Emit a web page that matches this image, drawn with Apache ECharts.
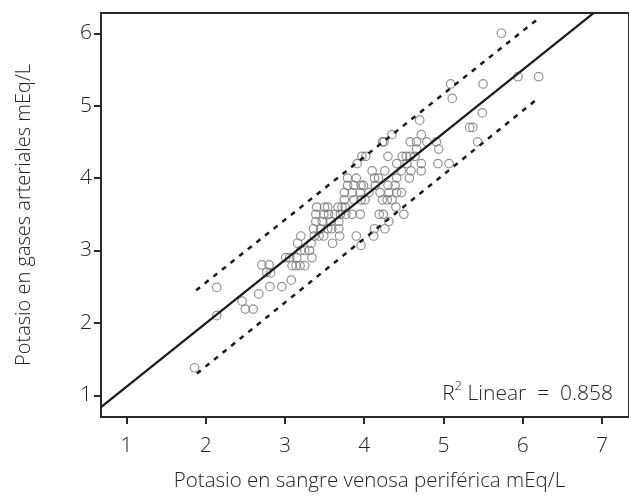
<!DOCTYPE html>
<html>
<head>
<meta charset="utf-8">
<script src="https://cdn.jsdelivr.net/npm/echarts@6/dist/echarts.min.js"></script>
<style>
  html, body { margin: 0; padding: 0; background: #fff; }
  #chart { width: 629px; height: 497px; }
</style>
</head>
<body>
<div id="chart"></div>
<script>
// Potasio: sangre venosa periférica (x) vs gases arteriales (y), mEq/L
const potasioPairs = [
  [1.86, 1.38],
  [2.14, 2.10],
  [2.50, 2.19], [2.60, 2.19],
  [2.46, 2.30],
  [2.67, 2.40],
  [2.14, 2.49], [2.81, 2.50], [2.96, 2.50],
  [3.08, 2.59],
  [2.77, 2.70], [2.82, 2.69],
  [2.71, 2.80], [2.80, 2.80], [3.09, 2.79], [3.14, 2.79], [3.19, 2.79], [3.25, 2.79],
  [3.01, 2.90], [3.06, 2.90], [3.15, 2.90], [3.34, 2.90],
  [3.20, 3.00], [3.25, 3.00], [3.31, 3.00],
  [3.16, 3.10], [3.33, 3.10], [3.60, 3.10], [3.96, 3.07],
  [3.20, 3.20], [3.37, 3.20], [3.43, 3.20], [3.49, 3.20], [3.69, 3.20], [3.90, 3.20], [4.12, 3.20],
  [3.36, 3.30], [3.45, 3.30], [3.54, 3.30], [3.59, 3.30], [3.68, 3.30], [4.13, 3.30], [4.26, 3.30],
  [3.39, 3.40], [3.47, 3.40], [3.58, 3.40], [3.68, 3.40], [4.31, 3.40],
  [3.39, 3.50], [3.49, 3.50], [3.55, 3.50], [3.63, 3.50], [3.70, 3.50], [3.77, 3.50],
  [3.85, 3.50], [3.95, 3.50], [4.19, 3.50], [4.24, 3.50], [4.50, 3.50],
  [3.40, 3.60], [3.50, 3.60], [3.54, 3.60], [3.67, 3.60], [3.72, 3.60], [3.76, 3.60], [4.40, 3.60],
  [3.75, 3.70], [3.87, 3.70], [3.96, 3.70], [4.01, 3.70], [4.23, 3.70], [4.29, 3.70], [4.35, 3.70],
  [3.75, 3.80], [3.85, 3.80], [3.95, 3.80], [4.06, 3.80], [4.20, 3.80], [4.31, 3.80], [4.41, 3.80], [4.47, 3.80],
  [3.79, 3.90], [3.87, 3.90], [3.96, 3.90], [3.99, 3.90], [4.14, 3.90], [4.30, 3.90], [4.39, 3.90],
  [3.79, 4.00], [3.90, 4.00], [4.13, 4.00], [4.18, 4.00], [4.41, 4.00], [4.57, 4.00],
  [4.10, 4.10], [4.26, 4.10], [4.47, 4.10], [4.59, 4.10], [4.72, 4.10],
  [3.91, 4.20], [4.41, 4.20], [4.54, 4.20], [4.72, 4.20], [4.93, 4.20], [5.07, 4.20],
  [3.97, 4.30], [4.02, 4.30], [4.30, 4.30], [4.48, 4.30], [4.53, 4.30], [4.58, 4.30], [4.64, 4.30],
  [4.66, 4.40], [4.94, 4.40],
  [4.23, 4.50], [4.25, 4.50], [4.58, 4.50], [4.66, 4.50], [4.79, 4.50], [4.91, 4.50], [5.43, 4.50],
  [4.35, 4.60], [4.72, 4.60],
  [5.33, 4.70], [5.37, 4.70],
  [4.70, 4.80],
  [5.49, 4.90],
  [5.11, 5.10],
  [5.09, 5.30], [5.50, 5.30],
  [5.94, 5.40], [6.20, 5.40],
  [5.73, 6.00]
];

// Linear fit and its prediction band
const fitLine = [[0.68, 0.835], [6.90, 6.285]];
const bandUpper = [[1.88, 2.45], [6.17, 6.18]];
const bandLower = [[1.89, 1.30], [6.18, 5.09]];

const xTicks = [1, 2, 3, 4, 5, 6, 7];
const yTicks = [1, 2, 3, 4, 5, 6];
const xRange = [0.68, 7.34];
const yRange = [0.70, 6.28];

const xTitle = 'Potasio en sangre venosa periférica mEq/L';
const yTitle = 'Potasio en gases arteriales mEq/L';
const r2Text = '0.858';

const FONT = '"Open Sans", "DejaVu Sans", sans-serif';
const INK = '#222';
const FS = 21;

const chart = echarts.init(document.getElementById('chart'), null, { renderer: 'canvas' });

const axisCommon = {
  type: 'value',
  splitLine: { show: false },
  axisLine: { show: true, onZero: false, lineStyle: { color: '#2a2a2a', width: 2 } },
  axisTick: { show: true, inside: false, length: 7, lineStyle: { color: '#2a2a2a', width: 2 } },
  nameLocation: 'middle',
  nameTextStyle: { fontFamily: FONT, fontSize: FS, color: INK, fontWeight: 300 }
};

chart.setOption({
  animation: false,
  backgroundColor: '#fff',
  grid: {
    left: 101, top: 13, right: -5, bottom: 78,
    show: true, borderColor: '#2a2a2a', borderWidth: 2, backgroundColor: 'transparent'
  },
  xAxis: Object.assign({}, axisCommon, {
    min: xRange[0], max: xRange[1],
    name: xTitle, nameGap: 54,
    nameTextStyle: Object.assign({}, axisCommon.nameTextStyle, { fontSize: 20.5, padding: [0, 0, 0, 9] }),
    axisTick: Object.assign({}, axisCommon.axisTick, { customValues: xTicks }),
    axisLabel: { customValues: xTicks, margin: 19, fontFamily: FONT, fontSize: FS, color: INK, fontWeight: 300 }
  }),
  yAxis: Object.assign({}, axisCommon, {
    min: yRange[0], max: yRange[1],
    name: yTitle, nameGap: 67,
    nameTextStyle: Object.assign({}, axisCommon.nameTextStyle, { fontSize: 20, padding: [0, 0, 0, 0] }),
    axisTick: Object.assign({}, axisCommon.axisTick, { customValues: yTicks }),
    axisLabel: { customValues: yTicks, margin: 9, fontFamily: FONT, fontSize: FS, color: INK, fontWeight: 300 }
  }),
  graphic: [{
    type: 'text',
    right: 16,
    top: 377,
    style: {
      text: '{a|R}{b|2}{a| Linear  =  ' + r2Text + '}',
      rich: {
        a: { fontFamily: FONT, fontSize: FS, fontWeight: 300, fill: INK, lineHeight: 28, verticalAlign: 'bottom' },
        b: { fontFamily: FONT, fontSize: 13, fontWeight: 300, fill: INK, lineHeight: 28, verticalAlign: 'top', padding: [3, 0, 0, 0] }
      }
    }
  }],
  series: [
    {
      type: 'scatter',
      data: potasioPairs,
      symbol: 'circle',
      symbolSize: 8.5,
      itemStyle: { color: 'rgba(0,0,0,0)', borderColor: '#777', borderWidth: 1.2 },
      z: 3
    },
    {
      type: 'line',
      data: fitLine,
      symbol: 'none',
      lineStyle: { color: '#1a1a1a', width: 2.2 },
      z: 4
    },
    {
      type: 'line',
      data: bandUpper,
      symbol: 'none',
      lineStyle: { color: '#1a1a1a', width: 2.5, type: [5, 6] },
      z: 4
    },
    {
      type: 'line',
      data: bandLower,
      symbol: 'none',
      lineStyle: { color: '#1a1a1a', width: 2.5, type: [5, 6] },
      z: 4
    }
  ]
});
</script>
</body>
</html>
